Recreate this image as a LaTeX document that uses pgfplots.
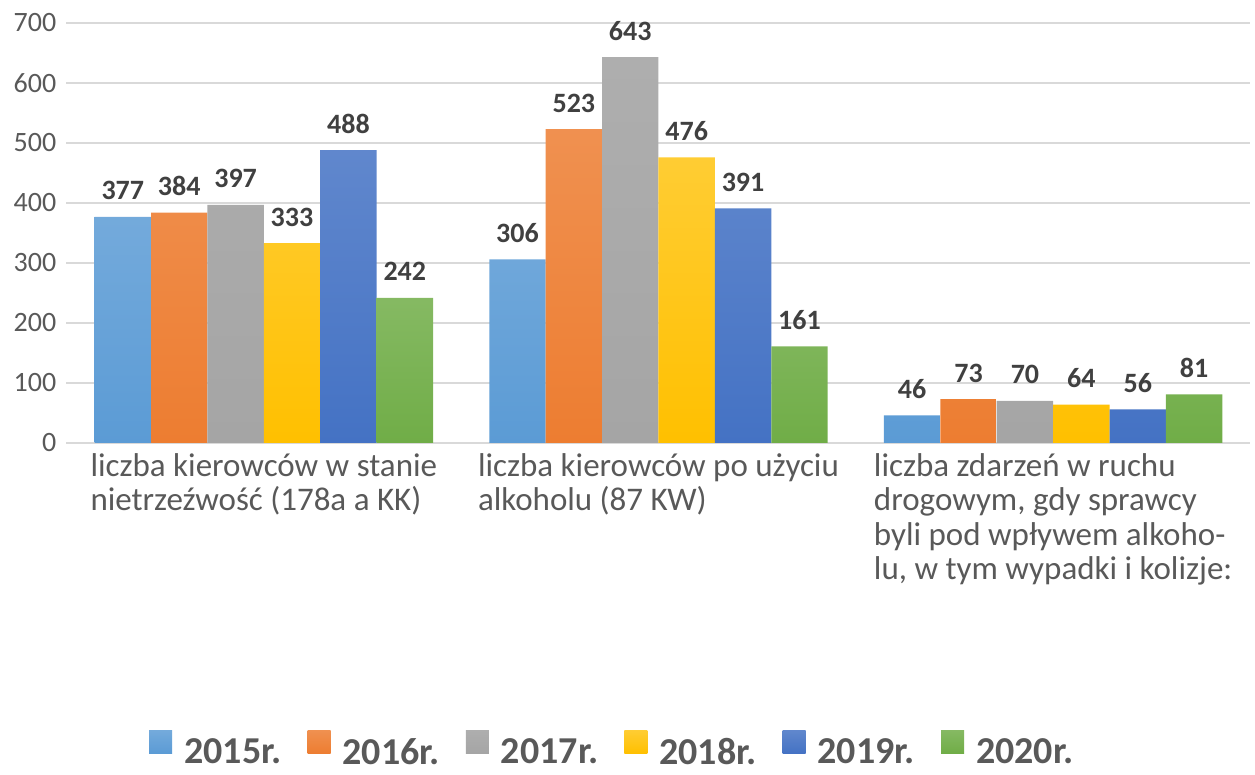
\documentclass[border=0pt]{standalone}
\usepackage{fontspec}
\setmainfont{Carlito}
\usepackage{pgfplots}
\pgfplotsset{compat=1.18}
\definecolor{cA}{HTML}{5B9BD5}
\definecolor{cB}{HTML}{ED7D31}
\definecolor{cC}{HTML}{A5A5A5}
\definecolor{cD}{HTML}{FFC000}
\definecolor{cE}{HTML}{4472C4}
\definecolor{cF}{HTML}{70AD47}
\definecolor{tickc}{HTML}{595959}
\definecolor{lblc}{HTML}{404040}
\definecolor{gridc}{HTML}{D9D9D9}
\begin{document}
\begin{tikzpicture}
\begin{axis}[
  at={(0pt,0pt)}, anchor=south west,
  scale only axis, width=1184pt, height=420pt,
  xmin=-0.5, xmax=2.5, ymin=0, ymax=700,
  ybar=0pt, bar width=56.4pt,
  ytick={0,100,...,700},
  xtick={0,1,2},
  xticklabels={{liczba kierowców w stanie\\nietrzeźwość (178a a KK)},
               {liczba kierowców po użyciu\\alkoholu (87 KW)},
               {liczba zdarzeń w ruchu\\drogowym, gdy sprawcy\\byli pod wpływem alkoho-\\lu, w tym wypadki i kolizje:}},
  major tick length=0pt,
  axis line style={draw=none},
  ymajorgrids,
  grid style={draw=gridc, line width=1.8pt},
  /pgf/number format/assume math mode=true,
  yticklabel style={anchor=east, inner sep=0pt, xshift=-10pt, text=tickc, font=\fontsize{28}{28}\selectfont},
  xticklabel style={anchor=north, inner sep=0pt, yshift=-10pt, align=left, text=tickc, font=\fontsize{33}{34.5}\selectfont},
  nodes near coords,
  nodes near coords style={font=\fontsize{28}{28}\selectfont\bfseries, text=lblc, anchor=base, inner sep=0pt, yshift=17pt},
  legend columns=6,
  legend style={at={(0.461,-0.729)}, anchor=center, draw=none, fill=none,
    font=\fontsize{38}{38}\selectfont\bfseries, text=tickc,
    /tikz/every even column/.append style={column sep=24pt},
    /tikz/every odd column/.append style={column sep=10pt}},
  legend image code/.code={\path[#1,draw=none] (0pt,-1pt) rectangle (23pt,22pt);},
]
\addplot[draw=none, top color=cA!85!white, bottom color=cA] coordinates {(0,377) (1,306) (2,46)};
\addplot[draw=none, top color=cB!85!white, bottom color=cB] coordinates {(0,384) (1,523) (2,73)};
\addplot[draw=none, top color=cC!90!white, bottom color=cC] coordinates {(0,397) (1,643) (2,70)};
\addplot[draw=none, top color=cD!80!white, bottom color=cD] coordinates {(0,333) (1,476) (2,64)};
\addplot[draw=none, top color=cE!85!white, bottom color=cE] coordinates {(0,488) (1,391) (2,56)};
\addplot[draw=none, top color=cF!85!white, bottom color=cF] coordinates {(0,242) (1,161) (2,81)};
\legend{2015r., 2016r., 2017r., 2018r., 2019r., 2020r.}
\end{axis}
\pgfresetboundingbox
\path[use as bounding box] (-66.5pt,-332pt) rectangle (1188.5pt,443pt);
\end{tikzpicture}
\end{document}
